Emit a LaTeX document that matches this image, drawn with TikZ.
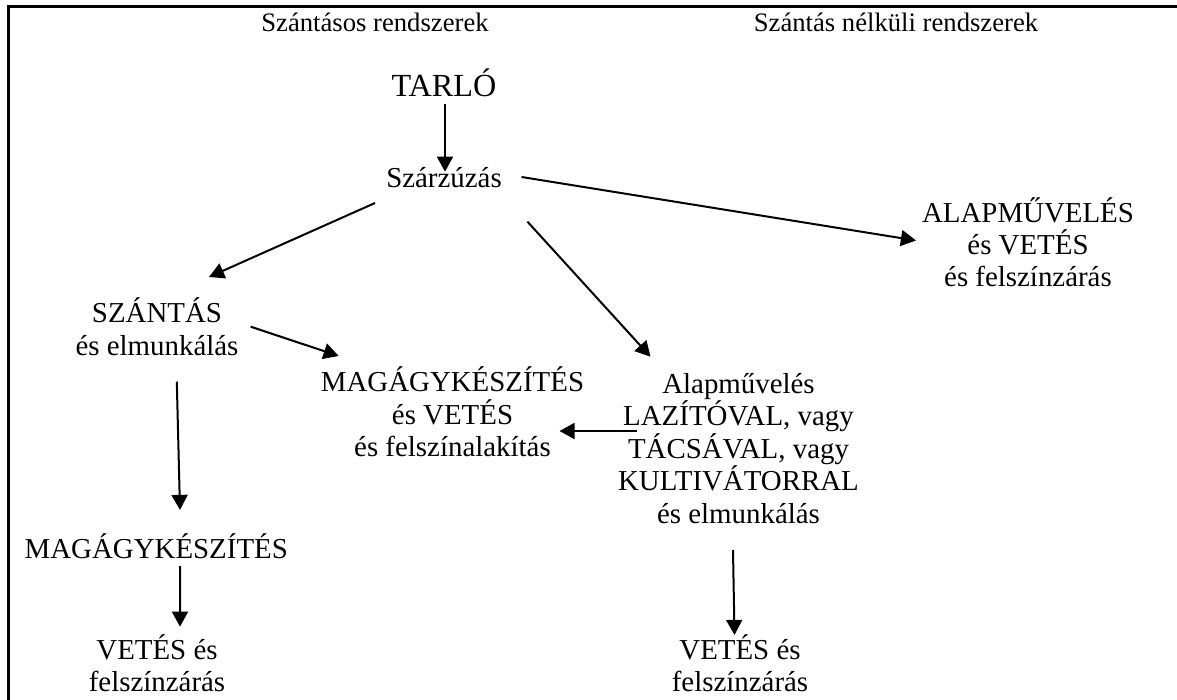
\documentclass[tikz,border=0pt]{standalone}
\usepackage{fontspec}
\setmainfont{Liberation Serif}
\usetikzlibrary{arrows.meta}
\begin{document}
\begin{tikzpicture}[
  x=0.45pt, y=-0.45pt,
  stage/.style={inner sep=0pt, anchor=base, align=center, font=\fontsize{13}{14.6}\selectfont},
  head/.style={inner sep=0pt, anchor=base, font=\fontsize{12}{14}\selectfont},
  arr/.style={line width=0.9pt, -{Triangle[length=6.8pt,width=7.2pt]}},
  ]
 \useasboundingbox (0,0) rectangle (1177,700);
 \draw[line width=1.35pt] (8.5,720) -- (8.5,6.7) -- (1200,6.7);

 % column titles
 \node [head] (hdrA) at (375,31.7) {Szántásos rendszerek};
 \node [head] (hdrB) at (896,31.7) {Szántás nélküli rendszerek};

 % stages (base = last line)
 \node [stage, font=\fontsize{14.5}{16}\selectfont] (tarlo) at (444,96.7) {TARLÓ};
 \node [stage] (szarzuzas) at (444,188) {Szárzúzás};
 \node [stage] (alapveg) at (1028,287) {ALAPMŰVELÉS\\ és VETÉS\\ és felszínzárás};
 \node [stage] (szantas) at (157,355) {SZÁNTÁS\\ és elmunkálás};
 \node [stage] (magvet) at (452.5,456.7) {MAGÁGYKÉSZÍTÉS\\ és VETÉS\\ és felszínalakítás};
 \node [stage] (alapmuv) at (738.5,523.3) {Alapművelés\\ LAZÍTÓVAL, vagy\\ TÁCSÁVAL, vagy\\ KULTIVÁTORRAL\\ és elmunkálás};
 \node [stage] (magagy) at (156.3,558) {MAGÁGYKÉSZÍTÉS};
 \node [stage] (vetesL) at (157,691.7) {VETÉS és\\ felszínzárás};
 \node [stage] (vetesR) at (740,691.7) {VETÉS és\\ felszínzárás};

 % arrows
 \draw[arr] ([shift={(1,7.3)}]tarlo.base) -- ([shift={(1,-16.3)}]szarzuzas.base);
 \draw[arr] ([shift={(77.6,-11)}]szarzuzas.base) -- ([shift={(-112,-46.5)}]alapveg.base);
 \draw[arr] ([shift={(-69,15)}]szarzuzas.base) -- ([shift={(52,-78)}]szantas.base);
 \draw[arr] ([shift={(83.5,33.7)}]szarzuzas.base) -- ([shift={(-88,-166.6)}]alapmuv.base);
 \draw[arr] ([shift={(93.7,-28.3)}]szantas.base) -- ([shift={(-113.8,-100.7)}]magvet.base);
 \draw[arr] ([shift={(-101.8,-92.3)}]alapmuv.base) -- ([shift={(107,-25.7)}]magvet.base);
 \draw[arr] ([shift={(19.8,26.7)}]szantas.base) -- ([shift={(23.7,-48)}]magagy.base);
 \draw[arr] ([shift={(23.7,8)}]magagy.base) -- ([shift={(23,-65)}]vetesL.base);
 \draw[arr] ([shift={(-5.5,26.7)}]alapmuv.base) -- ([shift={(-5.5,-56.7)}]vetesR.base);
\end{tikzpicture}
\end{document}
